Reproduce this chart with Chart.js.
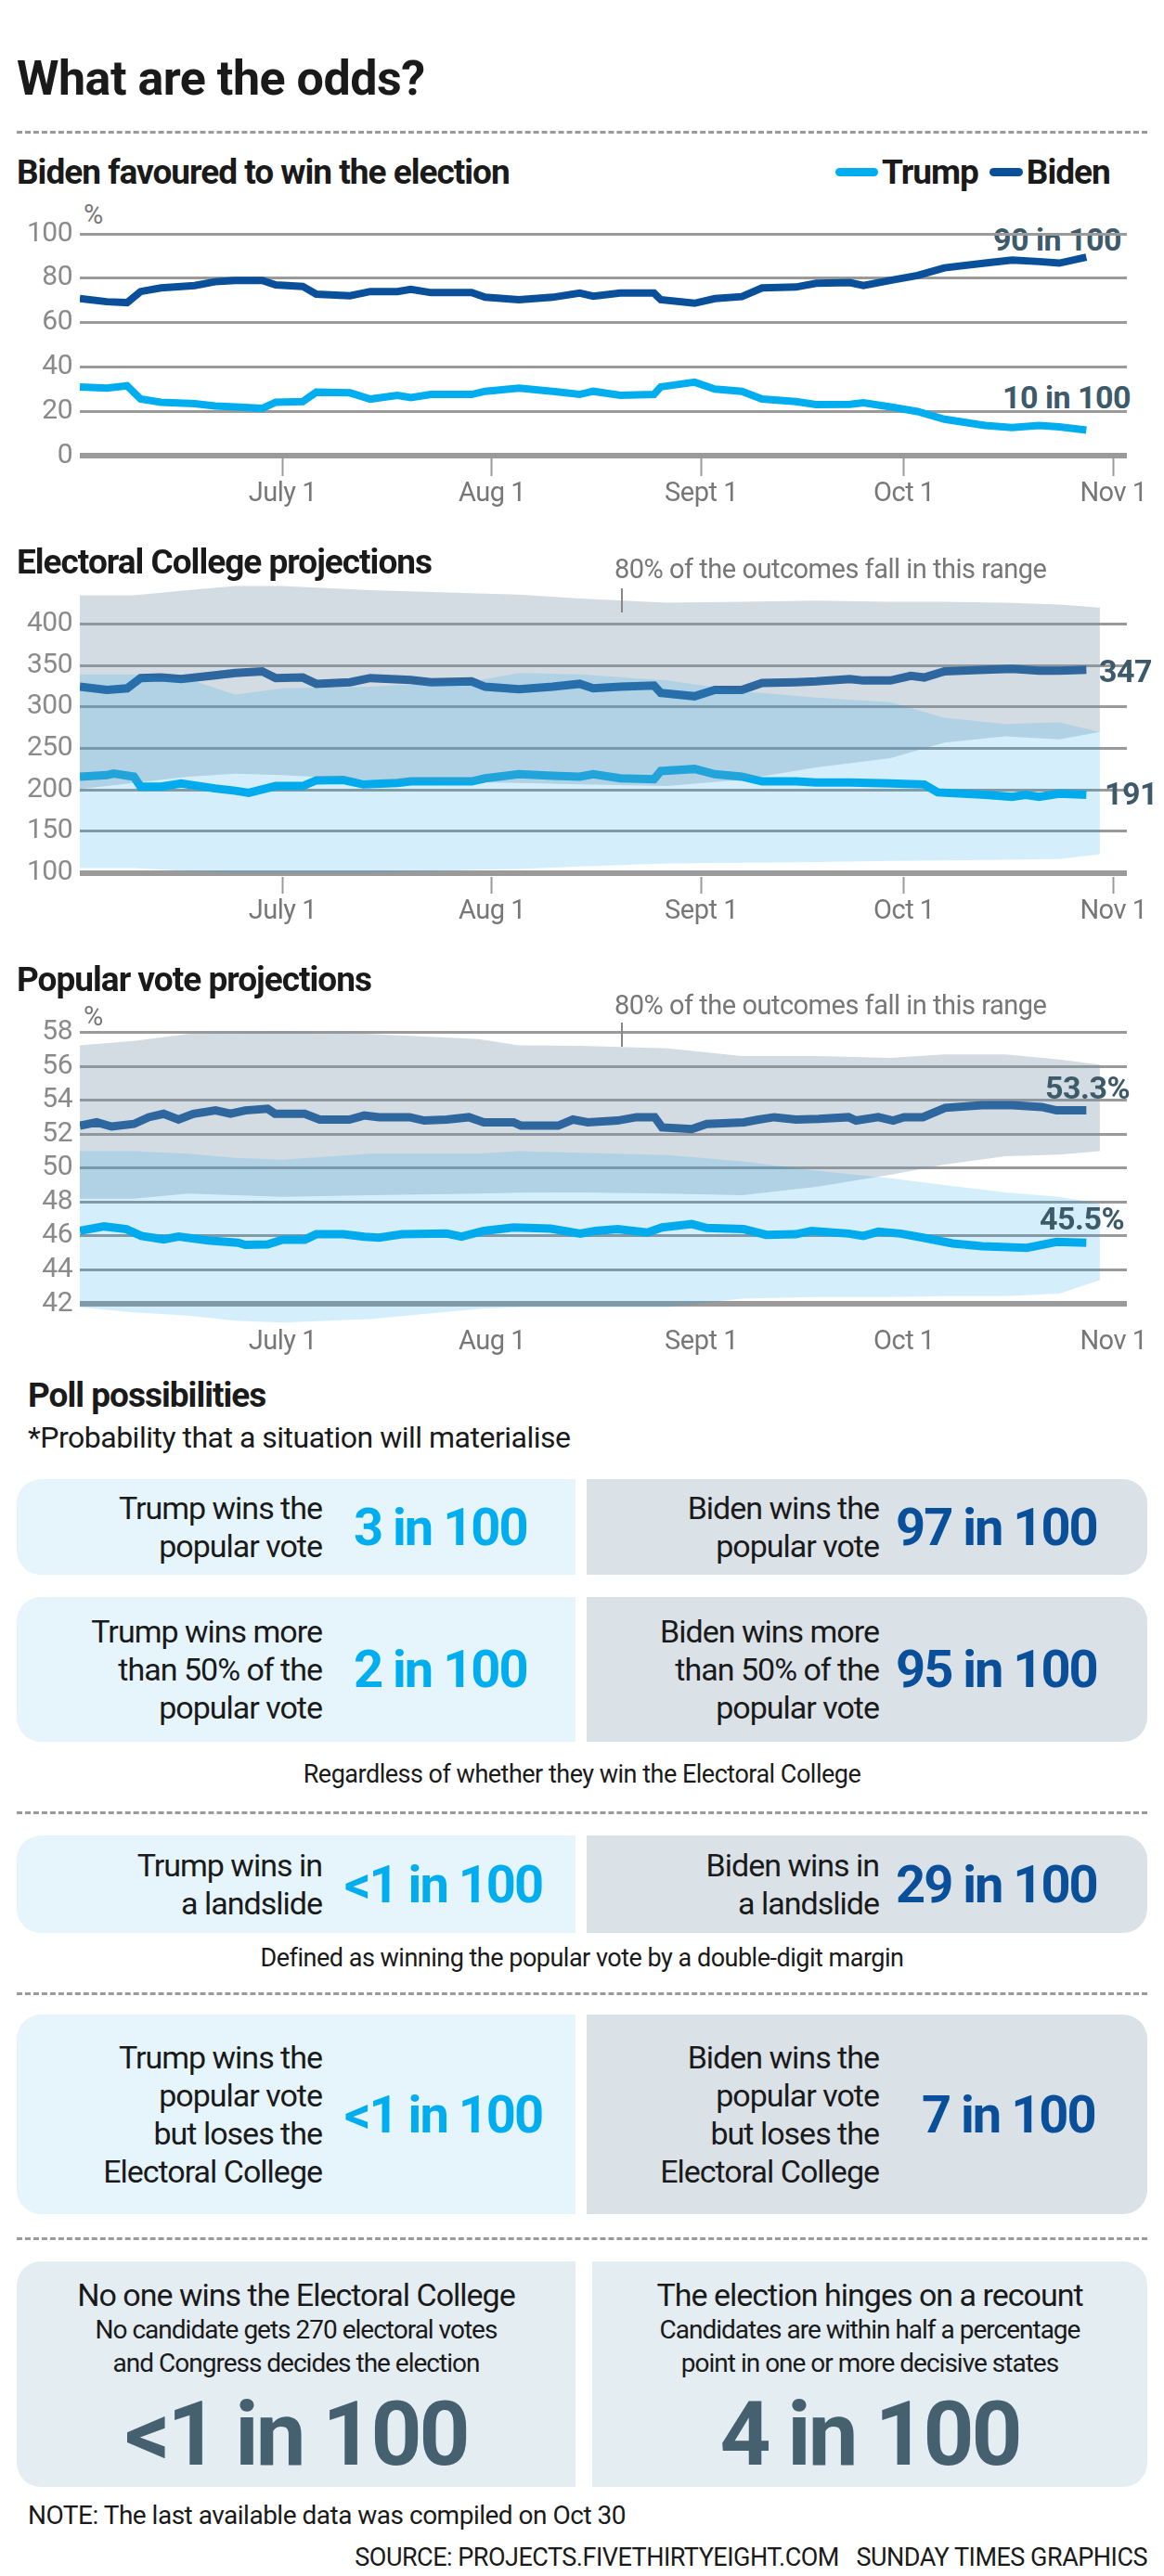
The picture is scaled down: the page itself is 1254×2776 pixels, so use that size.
<!DOCTYPE html>
<html>
<head>
<meta charset="utf-8">
<script src="https://cdn.jsdelivr.net/npm/chart.js@4"></script>
<style>
  body { margin:0; width:1254px; height:2776px; background:#fff; position:relative;
         font-family:Roboto,"Liberation Sans",sans-serif; color:#1a1a1a; letter-spacing:-0.5px; }
  .abs { position:absolute; white-space:nowrap; }
  .h1 { font-weight:bold; font-size:52px; }
  .h2 { font-weight:bold; font-size:37px; letter-spacing:-1px; }
  .dash { position:absolute; left:18px; width:1218px; border-top:3px dashed #9a9a9a; }
  .note { font-size:29px; color:#777; }
  .endlab { font-weight:bold; font-size:34px; color:#3d5a6b; background:#fff; padding:0 4px; }
  canvas { position:absolute; left:0; }
  .box { position:absolute; display:flex; align-items:center; }
  .lb { background:#e6f4fc; border-radius:26px 0 0 26px; left:18px; width:602px; }
  .rb { background:#dae2e8; border-radius:0 26px 26px 0; left:632px; width:604px; }
  .lab { font-size:34px; line-height:41px; text-align:right; white-space:nowrap; letter-spacing:-1px; }
  .num { font-weight:bold; font-size:56px; white-space:nowrap; letter-spacing:-2px; }
  .center { text-align:center; font-size:27px; }
</style>
</head>
<body>
<div class="abs h1" style="left:18px;top:54px;">What are the odds?</div>
<div class="dash" style="top:141px"></div>

<div class="abs h2" style="left:18px;top:164px;">Biden favoured to win the election</div>
<div class="abs h2" style="left:900px;top:164px;display:flex;align-items:center;">
  <span style="display:inline-block;width:46px;height:9px;background:#00aeef;border-radius:5px;margin-right:4px"></span>Trump
  <span style="display:inline-block;width:36px;height:9px;background:#0a4f99;border-radius:5px;margin:0 4px 0 12px"></span>Biden
</div>
<div class="abs note" style="left:90px;top:214px;">%</div>
<div class="abs endlab" style="left:1066px;top:238px;">90 in 100</div>
<div class="abs endlab" style="left:1076px;top:408px;">10 in 100</div>
<canvas id="c1" style="top:210px" width="1254" height="350"></canvas>

<canvas id="c2" style="top:590px" width="1254" height="420"></canvas>
<div class="abs h2" style="left:18px;top:584px;">Electoral College projections</div>
<div class="abs note" style="left:662px;top:596px;">80% of the outcomes fall in this range</div>
<div class="abs" style="left:669px;top:634px;width:2px;height:26px;background:#888"></div>
<div class="abs endlab" style="left:1180px;top:703px;background:none">347</div>
<div class="abs endlab" style="left:1186px;top:835px;background:none">191</div>

<canvas id="c3" style="top:1070px" width="1254" height="410"></canvas>
<div class="abs h2" style="left:18px;top:1034px;">Popular vote projections</div>
<div class="abs note" style="left:90px;top:1078px;">%</div>
<div class="abs note" style="left:662px;top:1066px;">80% of the outcomes fall in this range</div>
<div class="abs" style="left:669px;top:1102px;width:2px;height:26px;background:#888"></div>
<div class="abs endlab" style="left:1122px;top:1152px;background:none">53.3%</div>
<div class="abs endlab" style="left:1116px;top:1293px;background:none">45.5%</div>

<div class="abs h2" style="left:30px;top:1482px;">Poll possibilities</div>
<div class="abs" style="left:30px;top:1530px;font-size:32px">*Probability that a situation will materialise</div>

<div class="box lb" style="top:1594px;height:103px"><div class="lab" style="width:329px">Trump wins the<br>popular vote</div><div class="num" style="color:#00aeef;margin-left:34px">3 in 100</div></div>
<div class="box rb" style="top:1594px;height:103px"><div class="lab" style="width:315px">Biden wins the<br>popular vote</div><div class="num" style="color:#0a4f99;margin-left:18px">97 in 100</div></div>

<div class="box lb" style="top:1721px;height:156px"><div class="lab" style="width:329px">Trump wins more<br>than 50% of the<br>popular vote</div><div class="num" style="color:#00aeef;margin-left:34px">2 in 100</div></div>
<div class="box rb" style="top:1721px;height:156px"><div class="lab" style="width:315px">Biden wins more<br>than 50% of the<br>popular vote</div><div class="num" style="color:#0a4f99;margin-left:18px">95 in 100</div></div>
<div class="abs center" style="left:0;width:1254px;top:1896px">Regardless of whether they win the Electoral College</div>
<div class="dash" style="top:1952px"></div>

<div class="box lb" style="top:1978px;height:105px"><div class="lab" style="width:329px">Trump wins in<br>a landslide</div><div class="num" style="color:#00aeef;margin-left:24px">&lt;1 in 100</div></div>
<div class="box rb" style="top:1978px;height:105px"><div class="lab" style="width:315px">Biden wins in<br>a landslide</div><div class="num" style="color:#0a4f99;margin-left:18px">29 in 100</div></div>
<div class="abs center" style="left:0;width:1254px;top:2094px">Defined as winning the popular vote by a double-digit margin</div>
<div class="dash" style="top:2147px"></div>

<div class="box lb" style="top:2171px;height:215px"><div class="lab" style="width:329px">Trump wins the<br>popular vote<br>but loses the<br>Electoral College</div><div class="num" style="color:#00aeef;margin-left:24px">&lt;1 in 100</div></div>
<div class="box rb" style="top:2171px;height:215px"><div class="lab" style="width:315px">Biden wins the<br>popular vote<br>but loses the<br>Electoral College</div><div class="num" style="color:#0a4f99;margin-left:46px">7 in 100</div></div>
<div class="dash" style="top:2411px"></div>

<div class="abs" style="top:2437px;left:18px;width:602px;height:243px;background:#e4edf2;border-radius:26px 0 0 26px;text-align:center">
  <div style="font-size:34px;margin-top:16px;letter-spacing:-1px">No one wins the Electoral College</div>
  <div style="font-size:28px;line-height:36px;letter-spacing:-1px">No candidate gets 270 electoral votes<br>and Congress decides the election</div>
  <div style="font-size:96px;font-weight:bold;color:#45606f;line-height:116px;letter-spacing:-3px">&lt;1 in 100</div>
</div>
<div class="abs" style="top:2437px;left:638px;width:598px;height:243px;background:#e4edf2;border-radius:0 26px 26px 0;text-align:center">
  <div style="font-size:34px;margin-top:16px;letter-spacing:-1px">The election hinges on a recount</div>
  <div style="font-size:28px;line-height:36px;letter-spacing:-1px">Candidates are within half a percentage<br>point in one or more decisive states</div>
  <div style="font-size:96px;font-weight:bold;color:#45606f;line-height:116px;letter-spacing:-3px">4 in 100</div>
</div>
<div class="abs" style="left:30px;top:2694px;font-size:28px">NOTE: The last available data was compiled on Oct 30</div>
<div class="abs" style="right:18px;top:2740px;font-size:27px">SOURCE: PROJECTS.FIVETHIRTYEIGHT.COM &nbsp; SUNDAY TIMES GRAPHICS</div>

<script>
// x values are days since June 1
const monthDays = [30, 61, 92, 122, 153];
const monthLabels = ['July 1', 'Aug 1', 'Sept 1', 'Oct 1', 'Nov 1'];

// Chance of winning
const winDays = [0,4,7,9,12,17,20,23,27,29,33,35,40,43,47,49,52,58,60,65,70,74,76,80,85,86,91,94,98,101,106,109,114,116,120,124,128,134,138,142,145,149];
const winBiden = [70.8,69.4,69,74,75.6,76.7,78.4,79,79,77,76.3,72.8,72.1,74,74,75,73.5,73.5,71.4,70.3,71.4,73.3,71.9,73.3,73.3,70.3,68.7,70.8,71.7,75.6,76,77.7,78,76.7,79,81.2,84.7,86.8,88.2,87.5,86.8,89.5];
const winTrump = [31,30.4,31.5,25.5,24.1,23.4,22.4,22,21.3,24.1,24.4,28.6,28.3,25.5,27.2,26.2,27.6,27.6,29,30.4,29,27.6,29,27.2,27.6,31,33.1,30,29,25.5,24.4,23,23.1,23.8,22,19.9,16.4,13.6,12.7,13.6,13,11.5];
const winTicks = [0, 20, 40, 60, 80, 100];

// Electoral College
const ecBidenDays = [0,4,7,9,12,15,20,23,27,29,33,35,40,43,49,52,58,60,65,70,74,76,80,85,86,91,94,98,101,106,109,114,116,120,123,125,128,134,138,142,145,149];
const ecBiden = [324.5,320.7,322.6,335,335.7,333.8,338.3,341,343,335,335.7,328,330,335,332.7,330,331,324.5,321.5,324.5,328,322.6,324.5,326,317,313,320.7,320.7,329,330,331,333.8,332,332,337.6,335.7,343,345,346,344,344,345];
const ecTrumpDays = [0,4,5,8,9,12,15,20,23,25,29,33,35,39,42,47,49,58,60,65,70,74,76,80,85,86,91,94,98,101,106,109,114,120,125,127,134,138,140,142,145,149];
const ecTrump = [216,217.8,219.7,216,204,204,207.7,201.8,199,196.5,204.7,204.7,211.5,212,206.6,208.5,210.3,210.3,214,219,217,216,219,214,213,222.7,225.3,219,216,210.3,210.3,209,209,207.7,206.6,197,194,191.6,194,191.6,195.4,194];
const bandDays = [0,8,16,23,30,43,59,65,74,87,98,109,120,128,137,145,151];
const ecBidenHigh = [434.8,434.8,441,446,446,441,437.2,435.7,431,426,427,428.5,427,427,426,423.6,420];
const ecBidenLow = [201,208.5,216,219.7,217.8,212.2,209.2,208.5,206.6,204.7,212.2,227.2,238.4,257.2,264.6,261,270];
const ecTrumpHigh = [339.4,339.4,333.8,315,322.6,324.5,332,341,339.4,332,319,311.5,305.8,287,279.6,281.4,270];
const ecTrumpLow = [105.6,105.6,101.9,100,100,100,103.7,104.5,107.5,111.2,112,113,114.2,115,115.7,116.5,122.4];
const ecTicks = [100, 150, 200, 250, 300, 350, 400];

// Popular vote
const pvBidenDays = [0,2.5,4.7,8,10.2,12.4,14.6,16.8,20.1,22.3,24.5,27.8,28.9,33.3,35.5,39.9,42.1,44.3,48.8,51,54.3,57.6,59.8,64.2,65.3,70.8,73,75.2,79.6,82.4,85.1,86.2,90.6,92.8,98.3,100.5,102.8,106,109.4,113.8,114.9,118.2,120.4,122,124.8,128.1,133.6,138,142.4,144.6,149];
const pvBiden = [52.5,52.7,52.45,52.6,53,53.2,52.86,53.2,53.4,53.2,53.4,53.5,53.2,53.2,52.86,52.86,53.1,53,53,52.8,52.86,53,52.7,52.7,52.5,52.5,52.86,52.7,52.8,53,53,52.4,52.3,52.6,52.7,52.86,53,52.86,52.9,53,52.8,53,52.8,53,53,53.55,53.7,53.7,53.6,53.4,53.4];
const pvTrumpDays = [0,3.6,6.9,9.1,12.4,14.6,19,23.4,24.5,27.8,30,33.3,35,39,42.1,44.3,47.7,54.3,56.5,59.8,64.2,69.7,74.1,76.3,79.6,84,86.2,90.6,92.8,98.3,101.6,106,108.3,113.8,116,118.2,121.5,124.8,129.2,133.6,140.2,144.6,149];
const pvTrump = [46.3,46.56,46.4,46,45.8,45.96,45.74,45.6,45.47,45.5,45.78,45.78,46.1,46.1,45.96,45.9,46.1,46.14,45.96,46.3,46.5,46.43,46.14,46.3,46.4,46.2,46.5,46.7,46.47,46.4,46.07,46.1,46.3,46.14,46,46.25,46.14,45.9,45.56,45.4,45.3,45.65,45.6];
const pvBidenHigh = [57.24,57.5,57.9,58.0,58.07,57.9,57.6,57.24,57.2,57.05,56.6,56.6,56.5,56.7,56.7,56.4,56.1];
const pvBidenLow = [48.2,48.2,48.5,48.4,48.3,48.4,48.5,48.55,48.57,48.5,48.4,48.9,49.6,50.2,50.7,50.8,51.0];
const pvTrumpHigh = [51.0,51.0,50.85,50.6,50.5,50.85,50.85,51.0,50.9,50.76,50.4,49.85,49.4,49.0,48.57,48.3,47.9];
const pvTrumpLow = [41.8,41.5,41.3,41.0,40.9,41.1,41.7,41.8,41.8,41.8,42.3,42.4,42.4,42.45,42.45,42.6,43.4];
const pvTicks = [42, 44, 46, 48, 50, 52, 54, 56, 58];

const FONT = 'Roboto, "Liberation Sans", sans-serif';
const TRUMP = '#00aeef', BIDEN = '#0a4f99';

function pts(xs, ys) { return ys.map((y, i) => ({x: xs[i], y: y})); }

function line(xs, ys, color, w) {
  return {data: pts(xs, ys), borderColor: color, borderWidth: w, pointRadius: 0, tension: 0, fill: false};
}
function edge(xs, ys, fill, color) {
  return {data: pts(xs, ys), borderWidth: 0, pointRadius: 0, tension: 0, fill: fill,
          backgroundColor: color, borderColor: 'rgba(0,0,0,0)'};
}

function makeChart(id, datasets, yMin, yMax, ticks, pad, xHeight, tickLen) {
  new Chart(document.getElementById(id), {
    type: 'line',
    data: {datasets: datasets},
    options: {
      responsive: false, animation: false,
      layout: {padding: {top: pad, right: 40, left: 0, bottom: 0}},
      plugins: {legend: {display: false}, tooltip: {enabled: false}},
      scales: {
        x: {
          type: 'linear', min: 0, max: 155,
          afterBuildTicks: s => { s.ticks = monthDays.map(v => ({value: v})); },
          afterFit: s => { s.height = xHeight; },
          border: {display: false},
          grid: {drawOnChartArea: false, drawTicks: tickLen > 0, tickLength: tickLen, tickColor: '#9a9a9a', tickWidth: 2},
          ticks: {callback: (v, i) => monthLabels[i], color: '#777', padding: 2,
                  font: {family: FONT, size: 29}, maxRotation: 0}
        },
        y: {
          min: yMin, max: yMax,
          afterBuildTicks: s => { s.ticks = ticks.map(v => ({value: v})); },
          afterFit: s => { s.width = 86; },
          border: {display: false},
          grid: {color: '#9a9a9a', lineWidth: c => c.tick && c.tick.value === ticks[0] ? 6 : 3, drawTicks: false},
          ticks: {color: '#8a8a8a', padding: 8, font: {family: FONT, size: 30}}
        }
      }
    }
  });
}

makeChart('c1', [
  line(winDays, winTrump, TRUMP, 8),
  line(winDays, winBiden, BIDEN, 8)
], 0, 100, winTicks, 42, 69, 22);

makeChart('c2', [
  edge(bandDays, ecTrumpLow, false, 'rgba(0,0,0,0)'),
  edge(bandDays, ecTrumpHigh, 0, 'rgba(0,160,230,0.17)'),
  edge(bandDays, ecBidenLow, false, 'rgba(0,0,0,0)'),
  edge(bandDays, ecBidenHigh, 2, 'rgba(120,150,170,0.33)'),
  line(ecTrumpDays, ecTrump, TRUMP, 9),
  line(ecBidenDays, ecBiden, BIDEN, 9)
], 95, 450, ecTicks, 38, 65, 18);

makeChart('c3', [
  edge(bandDays, pvTrumpLow, false, 'rgba(0,0,0,0)'),
  edge(bandDays, pvTrumpHigh, 0, 'rgba(0,160,230,0.17)'),
  edge(bandDays, pvBidenLow, false, 'rgba(0,0,0,0)'),
  edge(bandDays, pvBidenHigh, 2, 'rgba(120,150,170,0.33)'),
  line(pvTrumpDays, pvTrump, TRUMP, 9),
  line(pvBidenDays, pvBiden, BIDEN, 9)
], 40.8, 58.3, pvTicks, 37, 53, 0);
</script>
</body>
</html>
